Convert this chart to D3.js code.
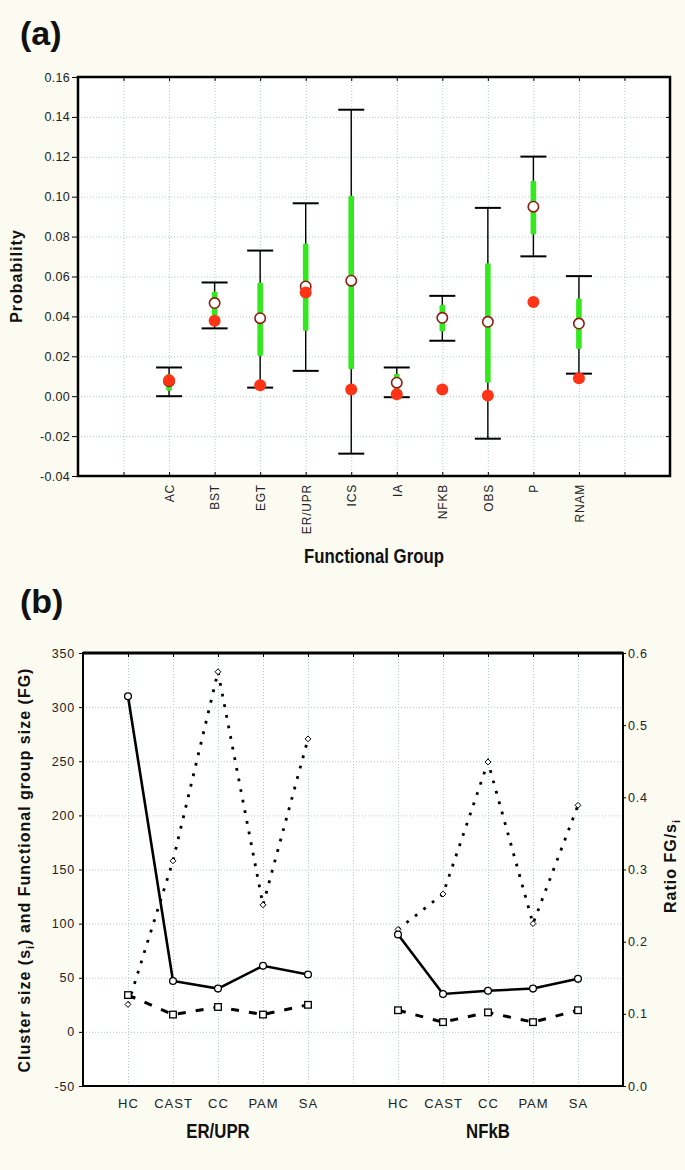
<!DOCTYPE html>
<html>
<head>
<meta charset="utf-8">
<script src="https://cdn.jsdelivr.net/npm/d3@7"></script>
<style>
  body { margin: 0; background: #fbfbf2; }
  svg { display: block; }
  .tick text { font-family: "Liberation Sans", Arial, sans-serif; fill: #222; }
</style>
</head>
<body>
<svg id="chart" width="685" height="1170"></svg>
<script>
// ---- panel (a) data ----
const groupsA = ["AC", "BST", "EGT", "ER/UPR", "ICS", "IA", "NFKB", "OBS", "P", "RNAM"];
const whiskerLow  = [0.000, 0.034, 0.0043, 0.0127, -0.0288, -0.0005, 0.0278, -0.0213, 0.0701, 0.0113];
const whiskerHigh = [0.0144, 0.057, 0.073, 0.0967, 0.1436, 0.0144, 0.0503, 0.0944, 0.1201, 0.0602];
const boxLow  = [0.0027, 0.0403, 0.0202, 0.0328, 0.0135, 0.0027, 0.0324, 0.0068, 0.081, 0.0236];
const boxHigh = [0.011, 0.0525, 0.057, 0.0766, 0.1005, 0.0113, 0.0458, 0.0666, 0.108, 0.049];
const meanA     = [0.0075, 0.0467, 0.0391, 0.055, 0.0579, 0.0068, 0.0393, 0.0373, 0.095, 0.0364];
const observedA = [0.008, 0.0378, 0.0055, 0.052, 0.0033, 0.001, 0.0033, 0.0003, 0.0472, 0.009];
const yTicksA = [-0.04, -0.02, 0.00, 0.02, 0.04, 0.06, 0.08, 0.10, 0.12, 0.14, 0.16];

// ---- panel (b) data ----
const clusterTypes = ["HC", "CAST", "CC", "PAM", "SA"];
const groupsB = ["ER/UPR", "NFkB"];
const clusterSize = [[310, 47, 40, 61, 53], [90, 35, 38, 40, 49]];
const fgSize      = [[34, 16, 23, 16, 25], [20, 9, 18, 9, 20]];
const ratioFG     = [[0.113, 0.312, 0.574, 0.251, 0.481], [0.217, 0.266, 0.449, 0.225, 0.389]];
const yTicksL = [-50, 0, 50, 100, 150, 200, 250, 300, 350];
const yTicksR = [0.0, 0.1, 0.2, 0.3, 0.4, 0.5, 0.6];

const font = '"Liberation Sans", Arial, sans-serif';
const gridColor = "#b5c6c9";

const svg = d3.select("#chart");
svg.append("rect").attr("width", 685).attr("height", 1170).attr("fill", "#fbfbf2");

// condensed bold caption (squeezed horizontally)
function narrowText(x, y, str, size) {
  return svg.append("text")
    .attr("transform", `translate(${x},${y}) scale(0.84,1)`)
    .attr("text-anchor", "middle").text(str)
    .attr("font-family", font).attr("font-weight", "bold")
    .attr("font-size", size).attr("fill", "#111");
}

// ================= panel (a) =================
const aL = 78, aR = 670, aT = 77, aB = 476;
const xA = d3.scaleLinear().domain([0, 13]).range([aL, aR]);
const yA = d3.scaleLinear().domain([-0.04, 0.16]).range([aB, aT]);

const gA = svg.append("g");
gA.append("rect").attr("x", aL).attr("y", aT).attr("width", aR - aL).attr("height", aB - aT).attr("fill", "#fff");

// grid
gA.append("g").attr("transform", `translate(0,${aB})`)
  .call(d3.axisBottom(xA).tickValues(d3.range(1, 13)).tickSize(-(aB - aT)).tickFormat(""))
  .call(g => g.select(".domain").remove())
  .selectAll("line").attr("stroke", gridColor).attr("stroke-dasharray", "1,2");
gA.append("g").attr("transform", `translate(${aL},0)`)
  .call(d3.axisLeft(yA).tickValues(yTicksA).tickSize(-(aR - aL)).tickFormat(""))
  .call(g => g.select(".domain").remove())
  .selectAll("line").attr("stroke", gridColor).attr("stroke-dasharray", "1,2");

// inner ticks
gA.append("g").attr("transform", `translate(0,${aB})`)
  .call(d3.axisBottom(xA).tickValues(d3.range(1, 13)).tickSize(-4).tickFormat(""))
  .call(g => g.select(".domain").remove()).selectAll("line").attr("stroke", "#000");
gA.append("g").attr("transform", `translate(0,${aT})`)
  .call(d3.axisTop(xA).tickValues(d3.range(1, 13)).tickSize(-4).tickFormat(""))
  .call(g => g.select(".domain").remove()).selectAll("line").attr("stroke", "#000");
gA.append("g").attr("transform", `translate(${aR},0)`)
  .call(d3.axisRight(yA).tickValues(yTicksA).tickSize(-4).tickFormat(""))
  .call(g => g.select(".domain").remove()).selectAll("line").attr("stroke", "#000");

// y axis labels
const yAxA = gA.append("g").attr("transform", `translate(${aL},0)`)
  .call(d3.axisLeft(yA).tickValues(yTicksA).tickSize(6).tickPadding(2).tickFormat(d => d.toFixed(2)));
yAxA.select(".domain").remove();
yAxA.selectAll("line").attr("stroke", "#000");
yAxA.selectAll("text").attr("font-size", 12.5).attr("letter-spacing", 0.3);

// x axis labels (rotated)
const xAxA = gA.append("g").attr("transform", `translate(0,${aB})`)
  .call(d3.axisBottom(xA).tickValues(d3.range(2, 12)).tickSize(0).tickFormat(i => groupsA[i - 2]));
xAxA.select(".domain").remove();
xAxA.selectAll("text")
  .attr("transform", "rotate(-90)").attr("text-anchor", "end")
  .attr("x", -8).attr("y", 0).attr("dy", "0.36em")
  .attr("font-size", 12).attr("letter-spacing", 0.8);

// marks
const itemsA = groupsA.map((g, i) => ({
  x: xA(i + 2), lo: whiskerLow[i], hi: whiskerHigh[i],
  bLo: boxLow[i], bHi: boxHigh[i], mean: meanA[i], obs: observedA[i]
}));
const markA = gA.append("g").selectAll("g").data(itemsA).join("g");
markA.append("line")
  .attr("x1", d => d.x).attr("x2", d => d.x)
  .attr("y1", d => yA(d.lo)).attr("y2", d => yA(d.hi))
  .attr("stroke", "#000").attr("stroke-width", 1.4);
["lo", "hi"].forEach(k => {
  markA.append("line")
    .attr("x1", d => d.x - 13).attr("x2", d => d.x + 13)
    .attr("y1", d => yA(d[k])).attr("y2", d => yA(d[k]))
    .attr("stroke", "#000").attr("stroke-width", 2);
});
markA.append("rect")
  .attr("x", d => d.x - 2.8).attr("width", 5.6)
  .attr("y", d => yA(d.bHi)).attr("height", d => yA(d.bLo) - yA(d.bHi))
  .attr("rx", 1.5).attr("fill", "#33e81c");
markA.append("circle")
  .attr("cx", d => d.x).attr("cy", d => yA(d.mean)).attr("r", 5.2)
  .attr("fill", "#fff").attr("stroke", "#8e1a12").attr("stroke-width", 1.6);
markA.append("circle")
  .attr("cx", d => d.x).attr("cy", d => yA(d.obs)).attr("r", 6)
  .attr("fill", "#ff3416");

// frame
gA.append("rect").attr("x", aL).attr("y", aT).attr("width", aR - aL).attr("height", aB - aT)
  .attr("fill", "none").attr("stroke", "#000").attr("stroke-width", 2.5);

// titles
svg.append("text").attr("x", 20).attr("y", 45).text("(a)")
  .attr("font-family", font).attr("font-weight", "bold").attr("font-size", 34).attr("fill", "#111");
svg.append("text").attr("transform", "translate(22,276) rotate(-90)").attr("text-anchor", "middle")
  .text("Probability").attr("font-family", font).attr("font-weight", "bold")
  .attr("font-size", 16).attr("letter-spacing", 1).attr("fill", "#111");
narrowText(374, 563, "Functional Group", 20);

// ================= panel (b) =================
const bL = 83, bR = 623, bT = 653, bB = 1086;
const xB = d3.scaleLinear().domain([0, 12]).range([bL, bR]);
const yL = d3.scaleLinear().domain([-50, 350]).range([bB, bT]);
const yR = d3.scaleLinear().domain([0, 0.6]).range([bB, bT]);

const gB = svg.append("g");
gB.append("rect").attr("x", bL).attr("y", bT).attr("width", bR - bL).attr("height", bB - bT).attr("fill", "#fff");

gB.append("g").attr("transform", `translate(0,${bB})`)
  .call(d3.axisBottom(xB).tickValues(d3.range(1, 12)).tickSize(-(bB - bT)).tickFormat(""))
  .call(g => g.select(".domain").remove())
  .selectAll("line").attr("stroke", gridColor).attr("stroke-dasharray", "1,2");
gB.append("g").attr("transform", `translate(${bL},0)`)
  .call(d3.axisLeft(yL).tickValues(yTicksL.slice(1, -1)).tickSize(-(bR - bL)).tickFormat(""))
  .call(g => g.select(".domain").remove())
  .selectAll("line").attr("stroke", gridColor).attr("stroke-dasharray", "1,2");

gB.append("g").attr("transform", `translate(0,${bT})`)
  .call(d3.axisTop(xB).tickValues(d3.range(1, 12)).tickSize(-4).tickFormat(""))
  .call(g => g.select(".domain").remove()).selectAll("line").attr("stroke", "#000");

const yAxL = gB.append("g").attr("transform", `translate(${bL},0)`)
  .call(d3.axisLeft(yL).tickValues(yTicksL).tickSize(4).tickPadding(4).tickFormat(d => String(d)));
yAxL.select(".domain").remove();
yAxL.selectAll("line").attr("stroke", "#000");
yAxL.selectAll("text").attr("font-size", 12.5).attr("letter-spacing", 0.8);

const yAxR = gB.append("g").attr("transform", `translate(${bR},0)`)
  .call(d3.axisRight(yR).tickValues(yTicksR).tickSize(3).tickPadding(2).tickFormat(d => d.toFixed(1)));
yAxR.select(".domain").remove();
yAxR.selectAll("line").attr("stroke", "#000");
yAxR.selectAll("text").attr("font-size", 12.5).attr("letter-spacing", 0.8);

const xPos = (gi, ci) => xB(1 + gi * 6 + ci);
const xAxB = gB.append("g").attr("transform", `translate(0,${bB})`)
  .call(d3.axisBottom(xB).tickValues(d3.range(1, 12).filter(v => v !== 6)).tickSize(0).tickPadding(13)
    .tickFormat(v => clusterTypes[(v - 1) % 6]));
xAxB.select(".domain").remove();
xAxB.selectAll("text").attr("font-size", 13).attr("letter-spacing", 1);

// series
const lineL = d3.line().x(d => d.x).y(d => yL(d.v));
const lineR = d3.line().x(d => d.x).y(d => yR(d.v));

groupsB.forEach((grp, gi) => {
  const cs = clusterSize[gi].map((v, ci) => ({ x: xPos(gi, ci), v }));
  const fg = fgSize[gi].map((v, ci) => ({ x: xPos(gi, ci), v }));
  const rt = ratioFG[gi].map((v, ci) => ({ x: xPos(gi, ci), v }));

  gB.append("path").datum(rt).attr("d", lineR).attr("fill", "none")
    .attr("stroke", "#000").attr("stroke-width", 2.8).attr("stroke-dasharray", "2.8,8");
  gB.append("path").datum(fg).attr("d", lineL).attr("fill", "none")
    .attr("stroke", "#000").attr("stroke-width", 3).attr("stroke-dasharray", "8,10");
  gB.append("path").datum(cs).attr("d", lineL).attr("fill", "none")
    .attr("stroke", "#000").attr("stroke-width", 2.6);

  gB.append("g").selectAll("path").data(rt).join("path")
    .attr("transform", d => `translate(${d.x},${yR(d.v)})`)
    .attr("d", d3.symbol(d3.symbolDiamond2, 22)())
    .attr("fill", "#fff").attr("stroke", "#000").attr("stroke-width", 1);
  gB.append("g").selectAll("rect").data(fg).join("rect")
    .attr("x", d => d.x - 3.3).attr("y", d => yL(d.v) - 3.3).attr("width", 6.6).attr("height", 6.6)
    .attr("fill", "#fff").attr("stroke", "#000").attr("stroke-width", 1.3);
  gB.append("g").selectAll("circle").data(cs).join("circle")
    .attr("cx", d => d.x).attr("cy", d => yL(d.v)).attr("r", 3.4)
    .attr("fill", "#fff").attr("stroke", "#000").attr("stroke-width", 1.3);

  narrowText(xPos(gi, 2), 1138, grp, 20);
});

gB.append("rect").attr("x", bL).attr("y", bT).attr("width", bR - bL).attr("height", bB - bT)
  .attr("fill", "none").attr("stroke", "#000").attr("stroke-width", 2);
gB.append("line").attr("x1", bL).attr("x2", bR).attr("y1", bT).attr("y2", bT)
  .attr("stroke", "#000").attr("stroke-width", 2.8);

svg.append("text").attr("x", 20).attr("y", 613).text("(b)")
  .attr("font-family", font).attr("font-weight", "bold").attr("font-size", 34).attr("fill", "#111");

const lblL = svg.append("text").attr("transform", "translate(30,870) rotate(-90)").attr("text-anchor", "middle")
  .attr("font-family", font).attr("font-weight", "bold").attr("font-size", 16)
  .attr("letter-spacing", 1).attr("fill", "#111");
lblL.append("tspan").text("Cluster size (s");
lblL.append("tspan").text("i").attr("font-size", 11).attr("dy", 4);
lblL.append("tspan").text(") and Functional group size (FG)").attr("dy", -4);

const lblR = svg.append("text").attr("transform", "translate(676,866) rotate(-90)").attr("text-anchor", "middle")
  .attr("font-family", font).attr("font-weight", "bold").attr("font-size", 16)
  .attr("letter-spacing", 1).attr("fill", "#111");
lblR.append("tspan").text("Ratio FG/s");
lblR.append("tspan").text("i").attr("font-size", 11).attr("dy", 4);
</script>
</body>
</html>
